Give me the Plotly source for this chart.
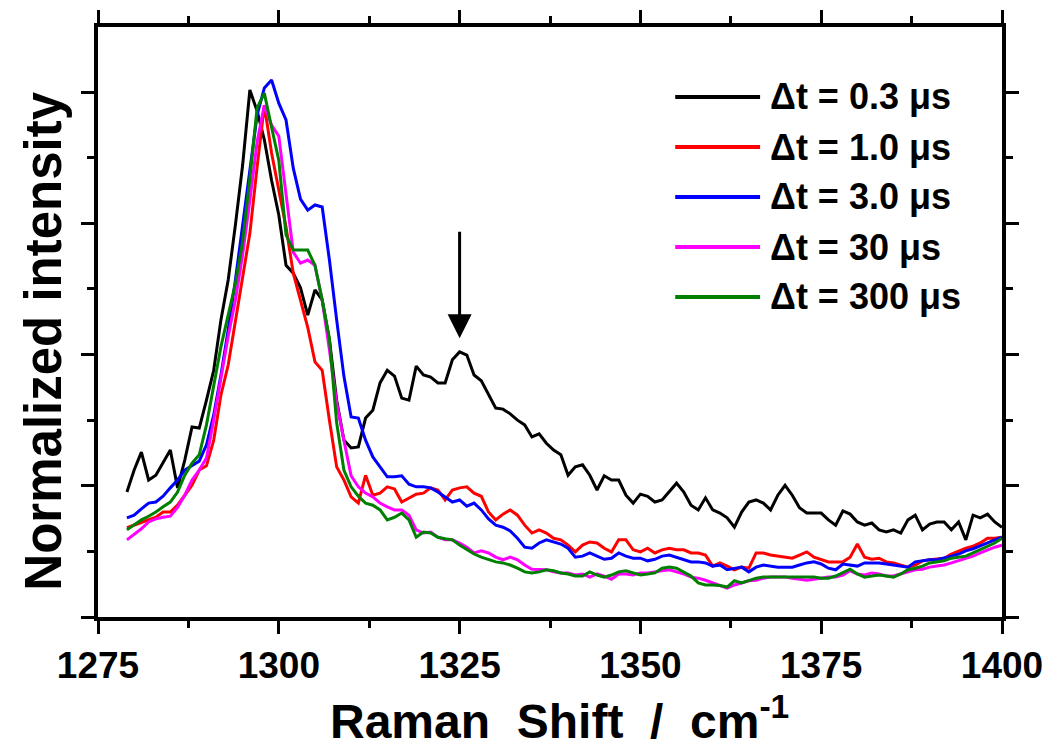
import plotly.graph_objects as go

# ---------------- data ----------------
raman_shift = list(range(1279, 1401))  # cm-1

labels = ["Δt = 0.3 μs", "Δt = 1.0 μs", "Δt = 3.0 μs", "Δt = 30 μs", "Δt = 300 μs"]
colors = ["#000000", "#ff0000", "#0000ff", "#ff00ff", "#008000"]

dt_0p3 = [
    23.8, 28.0, 31.4, 26.1, 27.0, 29.5, 31.8, 24.6, 29.9, 36.2,
    36.0, 41.3, 47.0, 56.6, 64.2, 74.7, 86.1, 100.4, 96.4, 90.9,
    83.2, 76.6, 67.0, 65.5, 62.7, 57.5, 62.3, 60.4, 52.8, 41.3,
    33.7, 32.2, 32.4, 37.9, 39.4, 44.6, 47.0, 45.9, 41.7, 41.3,
    47.8, 46.1, 45.7, 44.6, 44.6, 49.0, 50.5, 49.9, 46.1, 45.0,
    42.3, 39.8, 39.6, 38.7, 37.5, 36.6, 34.3, 34.9, 33.1, 31.8,
    30.9, 27.0, 28.6, 29.0, 27.0, 24.2, 26.9, 26.1, 26.1, 23.2,
    21.7, 23.4, 23.0, 21.9, 22.3, 23.8, 25.5, 23.8, 21.3, 20.4,
    22.7, 20.4, 19.8, 18.9, 17.1, 20.0, 21.9, 22.3, 21.7, 20.4,
    23.2, 25.1, 23.2, 20.8, 19.8, 19.8, 19.8, 18.5, 17.5, 20.2,
    19.6, 18.1, 17.5, 17.9, 16.6, 16.2, 16.6, 16.0, 18.5, 19.4,
    16.6, 17.7, 18.1, 18.1, 16.6, 18.1, 14.7, 19.4, 18.9, 19.6,
    18.1, 17.1,
]

dt_1p0 = [
    17.0, 17.5, 18.1, 18.5, 19.0, 20.0, 20.0, 21.3, 23.2, 25.1,
    28.0, 28.8, 33.7, 42.3, 48.0, 56.2, 64.2, 73.1, 85.7, 97.5,
    88.4, 81.3, 74.3, 65.5, 60.4, 55.2, 48.6, 47.0, 37.5, 28.6,
    26.1, 22.9, 21.7, 27.0, 23.2, 23.6, 24.8, 24.4, 21.9, 22.7,
    23.4, 23.6, 24.6, 24.2, 22.3, 24.2, 24.6, 24.8, 23.6, 23.0,
    20.0, 18.5, 19.6, 20.4, 19.4, 17.5, 16.0, 16.6, 16.0, 15.0,
    14.7, 13.7, 12.4, 13.7, 14.3, 14.1, 13.1, 12.4, 14.7, 14.7,
    12.8, 12.4, 13.1, 12.2, 12.8, 13.1, 12.8, 12.8, 12.2, 12.2,
    11.8, 9.7, 10.3, 9.7, 9.0, 9.5, 9.3, 12.2, 12.2, 11.8,
    11.6, 11.4, 11.2, 11.8, 12.4, 11.4, 10.9, 10.5, 10.5, 10.5,
    11.4, 13.9, 11.4, 11.0, 11.2, 10.5, 10.3, 9.9, 9.5, 9.9,
    10.7, 10.9, 11.0, 11.2, 12.0, 12.6, 13.1, 13.5, 14.1, 15.0,
    15.0, 15.2,
]

dt_3p0 = [
    18.9, 19.4, 20.6, 21.7, 21.9, 23.0, 24.6, 26.1, 28.0, 28.8,
    29.7, 32.8, 38.5, 46.1, 54.7, 64.2, 74.7, 85.1, 95.6, 100.8,
    102.3, 97.9, 94.7, 85.5, 79.6, 77.5, 78.5, 78.1, 68.0, 56.6,
    45.9, 38.1, 37.9, 33.7, 30.5, 28.6, 26.7, 26.7, 26.9, 25.3,
    24.8, 24.8, 24.6, 23.8, 22.9, 21.9, 22.3, 21.1, 21.7, 20.4,
    18.7, 17.5, 17.1, 16.4, 15.0, 13.3, 13.1, 14.1, 14.7, 14.3,
    13.9, 13.1, 11.4, 11.6, 12.2, 11.6, 11.0, 11.2, 12.2, 11.6,
    11.2, 11.2, 10.7, 11.0, 11.6, 11.8, 11.4, 10.9, 10.5, 10.5,
    10.3, 9.7, 9.9, 9.0, 9.3, 9.5, 8.6, 9.5, 9.9, 9.7,
    9.5, 9.5, 9.5, 9.9, 10.3, 10.5, 10.1, 9.3, 9.0, 10.1,
    9.9, 9.7, 10.3, 10.3, 10.3, 10.1, 9.9, 9.7, 9.5, 10.5,
    10.7, 10.9, 10.9, 11.2, 11.6, 12.0, 12.6, 13.0, 13.5, 14.1,
    14.7, 15.2,
]

dt_30 = [
    14.7, 15.8, 16.8, 18.1, 18.7, 19.0, 19.2, 20.9, 23.2, 26.1,
    28.0, 30.3, 37.5, 45.5, 53.5, 60.4, 69.0, 79.4, 90.5, 97.5,
    93.7, 91.6, 80.0, 69.5, 67.4, 68.0, 67.0, 60.4, 50.9, 40.8,
    33.7, 26.9, 24.8, 23.6, 22.9, 21.7, 21.0, 20.4, 20.4, 19.4,
    16.6, 16.0, 16.2, 15.2, 14.7, 14.7, 14.1, 13.3, 12.2, 12.6,
    12.2, 11.4, 10.9, 11.4, 10.9, 9.9, 9.1, 9.0, 9.0, 8.6,
    8.4, 8.4, 8.0, 8.2, 7.6, 8.2, 7.8, 7.2, 8.2, 8.2,
    8.0, 8.4, 8.4, 8.6, 8.8, 9.0, 8.6, 8.2, 7.6, 7.4,
    7.0, 6.5, 5.9, 5.5, 6.1, 6.5, 6.9, 7.0, 7.4, 7.6,
    7.6, 7.6, 7.4, 7.2, 7.0, 7.2, 7.4, 7.6, 7.6, 8.0,
    8.8, 8.2, 8.0, 8.4, 8.2, 7.8, 7.8, 8.2, 8.6, 9.0,
    9.1, 9.5, 9.7, 9.9, 10.3, 10.7, 11.2, 11.6, 12.2, 12.8,
    13.3, 13.7,
]

dt_300 = [
    16.6, 17.5, 18.5, 19.2, 20.0, 21.0, 21.9, 23.8, 27.0, 29.3,
    30.9, 36.6, 44.2, 51.5, 57.5, 63.5, 71.5, 83.5, 97.0, 99.8,
    93.3, 87.0, 72.8, 69.9, 69.9, 69.9, 67.0, 60.4, 53.0, 37.0,
    28.0, 24.8, 23.0, 21.7, 21.3, 20.4, 18.5, 19.0, 19.8, 18.5,
    15.2, 16.2, 16.0, 15.2, 14.9, 14.7, 13.7, 12.8, 12.0, 11.4,
    11.0, 10.5, 10.3, 9.9, 9.3, 8.6, 8.4, 8.6, 9.0, 8.8,
    8.4, 8.2, 7.8, 7.8, 8.6, 8.0, 7.6, 8.0, 8.6, 8.8,
    8.4, 8.0, 8.2, 8.4, 9.3, 9.5, 9.3, 8.6, 7.8, 6.5,
    6.1, 6.1, 6.0, 5.7, 6.9, 6.5, 6.9, 7.4, 7.6, 7.6,
    7.6, 7.6, 7.6, 7.6, 7.6, 7.6, 7.4, 7.4, 7.8, 8.4,
    9.1, 8.2, 7.6, 7.8, 8.0, 7.8, 7.6, 8.2, 9.0, 9.3,
    9.7, 10.3, 10.5, 10.7, 11.2, 11.4, 11.6, 12.2, 12.8, 13.5,
    14.1, 15.0,
]

series = [dt_0p3, dt_1p0, dt_3p0, dt_30, dt_300]
for s in series:
    assert len(s) == len(raman_shift), len(s)

x_ticks = [1275, 1300, 1325, 1350, 1375, 1400]
arrow_x = 1325
arrow_tip, arrow_tail = 53.1, 73.7

FONT = "Arial, Liberation Sans, sans-serif"

fig = go.Figure()
for name, col, ys in zip(labels, colors, series):
    fig.add_trace(go.Scatter(x=raman_shift, y=ys, mode="lines", name=name,
                             line=dict(color=col, width=3), showlegend=False))

axis_common = dict(
    showline=True, linewidth=4, linecolor="black", mirror="allticks",
    ticks="outside", ticklen=13, tickwidth=3, tickcolor="black",
    showgrid=False, zeroline=False, automargin=False,
)

fig.update_xaxes(
    range=[1275, 1400], tickmode="array", tickvals=x_ticks,
    ticktext=[str(v) for v in x_ticks],
    tickfont=dict(family=FONT, size=37, color="black", weight="bold"),
    minor=dict(ticks="outside", ticklen=7, tickwidth=3, tickcolor="black",
               dtick=12.5, tick0=1275, showgrid=False),
    **axis_common,
)
fig.update_yaxes(
    range=[0, 112.4], dtick=25, tick0=0, showticklabels=False,
    minor=dict(ticks="outside", ticklen=7, tickwidth=3, tickcolor="black",
               dtick=12.5, tick0=0, showgrid=False),
    **axis_common,
)

NB = "\u00a0"
annotations = [
    dict(text=f"Raman{NB} Shift{NB} /{NB} cm<sup>-1</sup>", xref="paper", yref="paper",
         x=0.511, y=-0.171, xanchor="center", yanchor="middle", showarrow=False,
         font=dict(family=FONT, size=48, color="black", weight="bold")),
    dict(text="Normalized intensity", xref="paper", yref="paper",
         x=-0.060, y=0.468, xanchor="center", yanchor="middle", textangle=-90,
         showarrow=False,
         font=dict(family=FONT, size=51, color="black", weight="bold")),
    dict(x=arrow_x, y=arrow_tip, ax=arrow_x, ay=arrow_tail, xref="x", yref="y",
         axref="x", ayref="y", text="", showarrow=True, arrowhead=2,
         arrowsize=1.6, arrowwidth=3, arrowcolor="black"),
]

shapes = []
leg_x0, leg_x1, leg_tx = 0.6385, 0.7324, 0.7413
leg_y = [0.8814, 0.7966, 0.7119, 0.6271, 0.5424]
for name, col, yy in zip(labels, colors, leg_y):
    shapes.append(dict(type="line", xref="paper", yref="paper", x0=leg_x0, x1=leg_x1,
                       y0=yy, y1=yy, line=dict(color=col, width=4)))
    annotations.append(dict(text=name, xref="paper", yref="paper", x=leg_tx, y=yy,
                            xanchor="left", yanchor="middle", showarrow=False,
                            font=dict(family=FONT, size=36, color="black", weight="bold")))

fig.update_layout(
    width=1046, height=752,
    margin=dict(l=98, r=44, t=27, b=135, autoexpand=False),
    paper_bgcolor="white", plot_bgcolor="white",
    annotations=annotations, shapes=shapes, showlegend=False,
)

fig.write_html("out.html")
